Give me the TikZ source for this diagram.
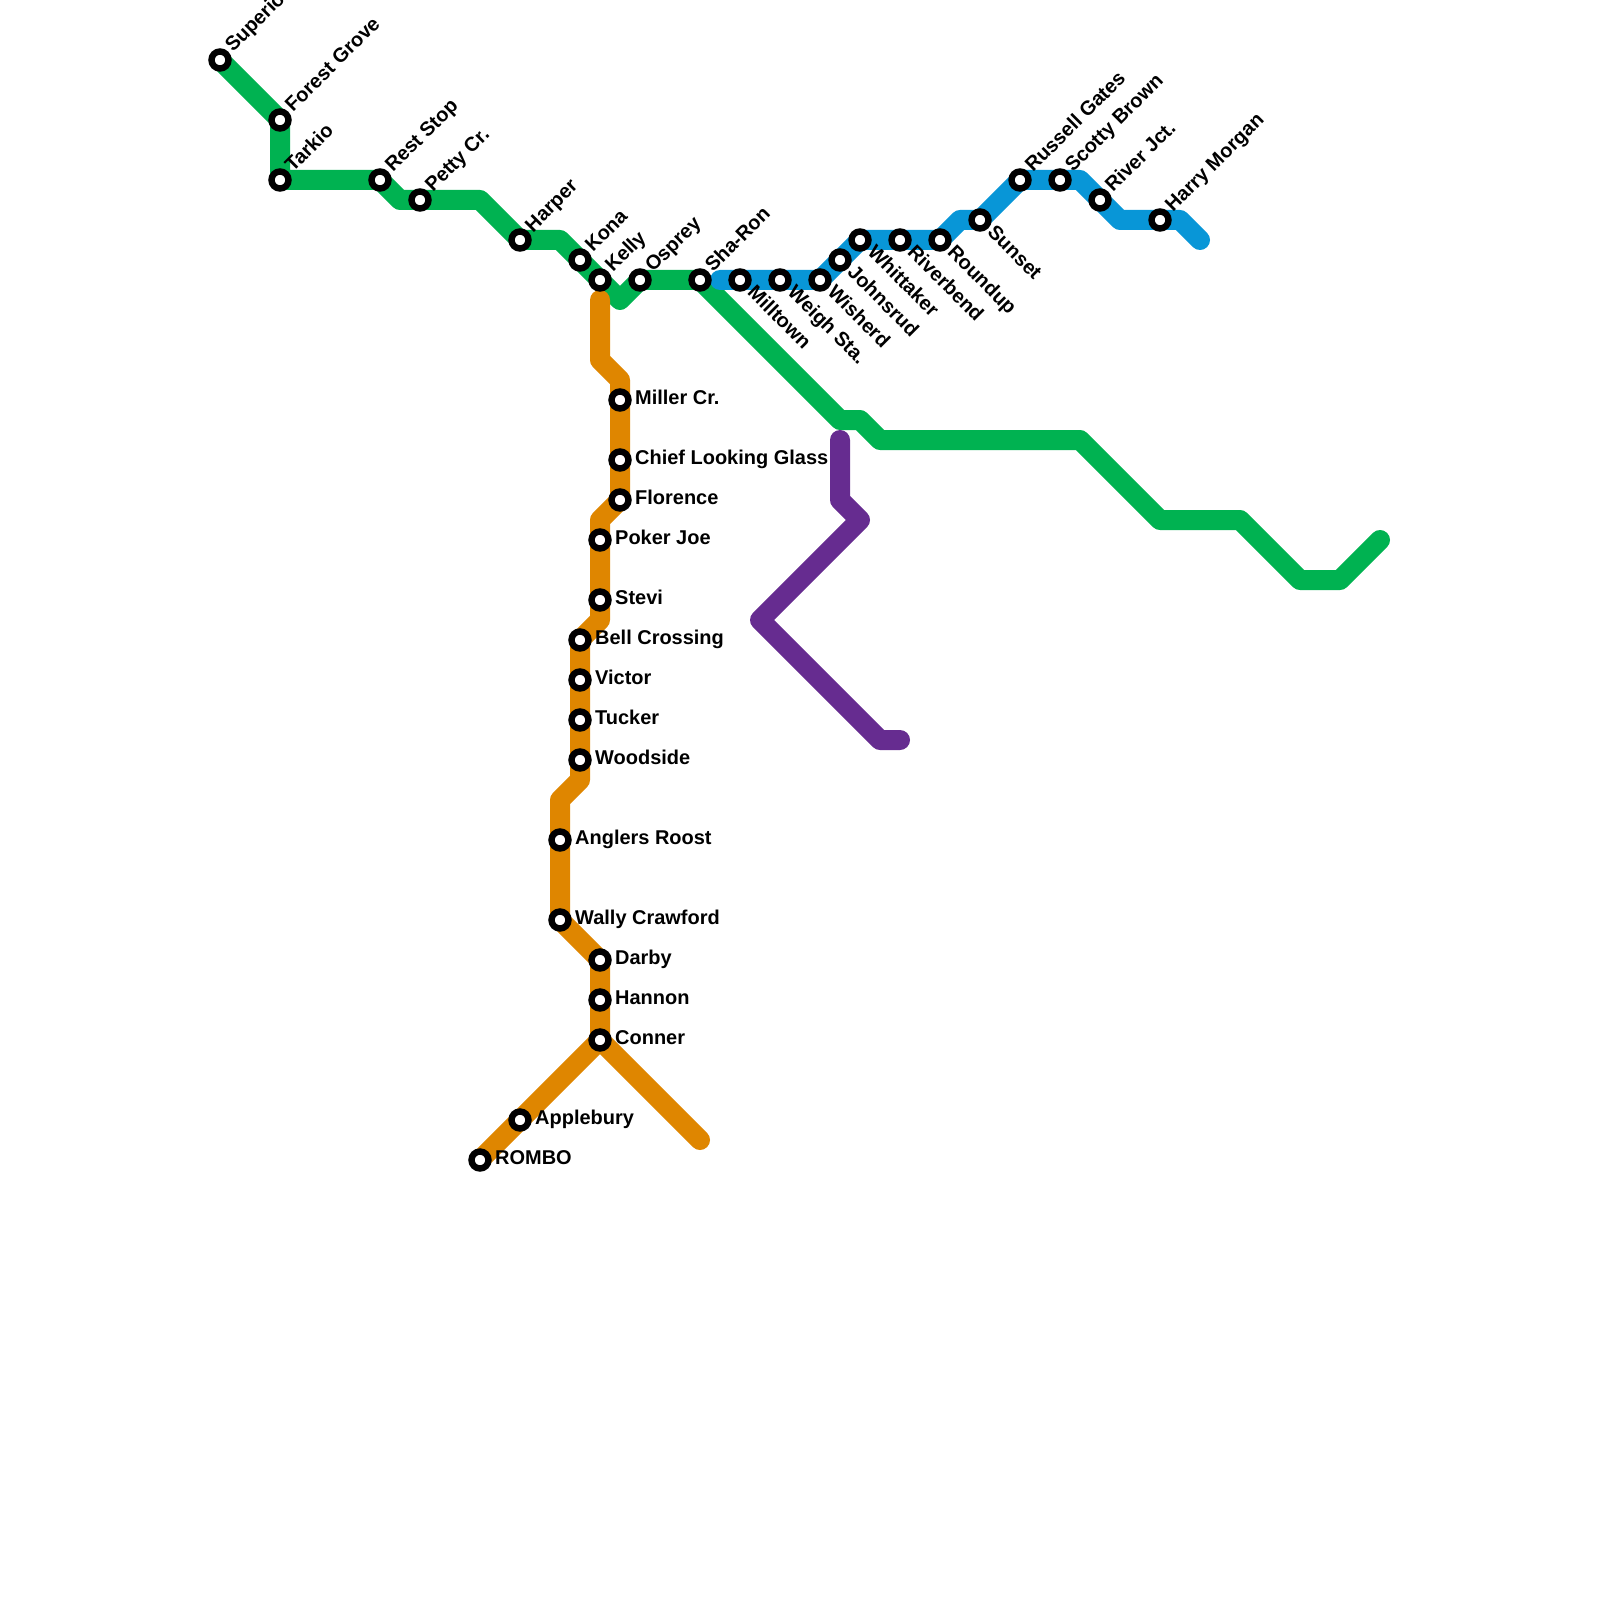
\documentclass[tikz,border=0pt]{standalone}
\usepackage{fontspec}
\setmainfont{Liberation Sans}
\usetikzlibrary{backgrounds}

\begin{document}
\begin{tikzpicture}[x=2mm,y=-2mm,font=\fontsize{5.68}{6.8}\selectfont\bfseries,
  stop/.style={circle,draw=black,fill=white,line width=0.64mm,minimum size=1.7mm,inner sep=0pt},
  route/.style={line width=2mm,line cap=round,line join=round},
  nameE/.style={anchor=base west,inner sep=0pt,xshift=1.45mm,yshift=-0.48mm},
  nameNE/.style={anchor=base west,inner sep=0pt,xshift=1.27mm,yshift=0.65mm,rotate=45},
  nameSE/.style={anchor=base west,inner sep=0pt,xshift=0.6mm,yshift=-1.3mm,rotate=-45}]
  \useasboundingbox (0,0) rectangle (80,80);
  \definecolor{greenline}{HTML}{00B251}
  \definecolor{blueline}{HTML}{0896D7}
  \definecolor{orangeline}{HTML}{DF8600}
  \definecolor{purpleline}{HTML}{662C90}
  \node[stop] (superior) at (11,3) {};
  \node[stop] (forest) at (14,6) {};
  \node[stop] (tarkio) at (14,9) {};
  \node[stop] (reststop) at (19,9) {};
  \node[stop] (petty) at (21,10) {};
  \node[stop] (harper) at (26,12) {};
  \node[stop] (kona) at (29,13) {};
  \node[stop] (kelly) at (30,14) {};
  \node[stop] (osprey) at (32,14) {};
  \node[stop] (sharon) at (35,14) {};
  \node[stop] (milltown) at (37,14) {};
  \node[stop] (weigh) at (39,14) {};
  \node[stop] (wisherd) at (41,14) {};
  \node[stop] (johnsrud) at (42,13) {};
  \node[stop] (whittaker) at (43,12) {};
  \node[stop] (riverbend) at (45,12) {};
  \node[stop] (roundup) at (47,12) {};
  \node[stop] (sunset) at (49,11) {};
  \node[stop] (russell) at (51,9) {};
  \node[stop] (scotty) at (53,9) {};
  \node[stop] (river) at (55,10) {};
  \node[stop] (harry) at (58,11) {};
  \node[stop] (miller) at (31,20) {};
  \node[stop] (chief) at (31,23) {};
  \node[stop] (florence) at (31,25) {};
  \node[stop] (pokerjoe) at (30,27) {};
  \node[stop] (stevi) at (30,30) {};
  \node[stop] (bell) at (29,32) {};
  \node[stop] (victor) at (29,34) {};
  \node[stop] (tucker) at (29,36) {};
  \node[stop] (woodside) at (29,38) {};
  \node[stop] (anglers) at (28,42) {};
  \node[stop] (wally) at (28,46) {};
  \node[stop] (darby) at (30,48) {};
  \node[stop] (hannon) at (30,50) {};
  \node[stop] (conner) at (30,52) {};
  \node[stop] (applebury) at (26,56) {};
  \node[stop] (rombo) at (24,58) {};
  \coordinate (greenend) at (69,27);
  \coordinate (bluestart) at (36,14);
  \coordinate (blueend) at (60,12);
  \coordinate (orangestart) at (30,15);
  \coordinate (orangeend) at (35,57);
  \coordinate (purplestart) at (42,22);
  \coordinate (purpleend) at (45,37);
  \begin{scope}[on background layer]
    \draw[route,greenline] (superior.center) -- (forest.center) -- (tarkio.center) -- (reststop.center) -- (20,10) -- (petty.center) -- (24,10) -- (harper.center) -- (28,12) -- (kona.center) -- (kelly.center) -- (31,15) -- (osprey.center) -- (sharon.center) -- (42,21) -- (43,21) -- (44,22) -- (54,22) -- (58,26) -- (62,26) -- (65,29) -- (67,29) -- (greenend);
    \draw[route,blueline] (bluestart) -- (milltown.center) -- (weigh.center) -- (wisherd.center) -- (johnsrud.center) -- (whittaker.center) -- (riverbend.center) -- (roundup.center) -- (48,11) -- (sunset.center) -- (russell.center) -- (scotty.center) -- (54,9) -- (river.center) -- (56,11) -- (harry.center) -- (59,11) -- (blueend);
    \draw[route,orangeline] (orangestart) -- (30,18) -- (31,19) -- (miller.center) -- (chief.center) -- (florence.center) -- (30,26) -- (pokerjoe.center) -- (stevi.center) -- (30,31) -- (bell.center) -- (victor.center) -- (tucker.center) -- (woodside.center) -- (29,39) -- (28,40) -- (anglers.center) -- (wally.center) -- (darby.center) -- (hannon.center) -- (conner.center) -- (applebury.center) -- (rombo.center);
    \draw[route,orangeline] (conner.center) -- (orangeend);
    \draw[route,purpleline] (purplestart) -- (42,25) -- (43,26) -- (38,31) -- (44,37) -- (purpleend);
  \end{scope}
  \node[nameNE] (superiorname) at (superior) {Superior};
  \node[nameNE] (forestname) at (forest) {Forest Grove};
  \node[nameNE] (tarkioname) at (tarkio) {Tarkio};
  \node[nameNE] (reststopname) at (reststop) {Rest Stop};
  \node[nameNE] (pettyname) at (petty) {Petty Cr.};
  \node[nameNE] (harpername) at (harper) {Harper};
  \node[nameNE] (konaname) at (kona) {Kona};
  \node[nameNE] (kellyname) at (kelly) {Kelly};
  \node[nameNE] (ospreyname) at (osprey) {Osprey};
  \node[nameNE] (sharonname) at (sharon) {Sha-Ron};
  \node[nameSE] (milltownname) at (milltown) {Milltown};
  \node[nameSE] (weighname) at (weigh) {Weigh Sta.};
  \node[nameSE] (wisherdname) at (wisherd) {Wisherd};
  \node[nameSE] (johnsrudname) at (johnsrud) {Johnsrud};
  \node[nameSE] (whittakername) at (whittaker) {Whittaker};
  \node[nameSE] (riverbendname) at (riverbend) {Riverbend};
  \node[nameSE] (roundupname) at (roundup) {Roundup};
  \node[nameSE] (sunsetname) at (sunset) {Sunset};
  \node[nameNE] (russellname) at (russell) {Russell Gates};
  \node[nameNE] (scottyname) at (scotty) {Scotty Brown};
  \node[nameNE] (rivername) at (river) {River Jct.};
  \node[nameNE] (harryname) at (harry) {Harry Morgan};
  \node[nameE] (millername) at (miller) {Miller Cr.};
  \node[nameE] (chiefname) at (chief) {Chief Looking Glass};
  \node[nameE] (florencename) at (florence) {Florence};
  \node[nameE] (pokerjoename) at (pokerjoe) {Poker Joe};
  \node[nameE] (steviname) at (stevi) {Stevi};
  \node[nameE] (bellname) at (bell) {Bell Crossing};
  \node[nameE] (victorname) at (victor) {Victor};
  \node[nameE] (tuckername) at (tucker) {Tucker};
  \node[nameE] (woodsidename) at (woodside) {Woodside};
  \node[nameE] (anglersname) at (anglers) {Anglers Roost};
  \node[nameE] (wallyname) at (wally) {Wally Crawford};
  \node[nameE] (darbyname) at (darby) {Darby};
  \node[nameE] (hannonname) at (hannon) {Hannon};
  \node[nameE] (connername) at (conner) {Conner};
  \node[nameE] (applename) at (applebury) {Applebury};
  \node[nameE] (romboname) at (rombo) {ROMBO};
\end{tikzpicture}
\end{document}
